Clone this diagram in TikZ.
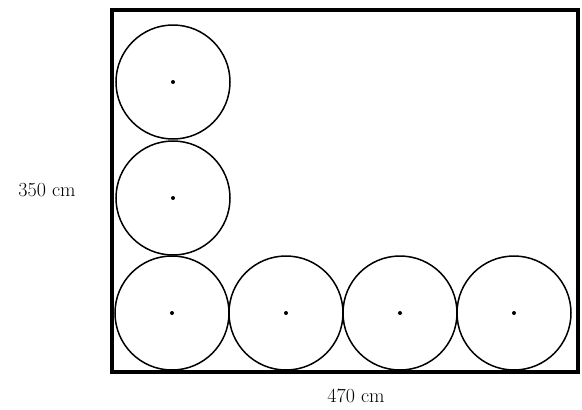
\documentclass[tikz,border=0pt]{standalone}
\begin{document}
\begin{tikzpicture}[x=1pt,y=-1pt,
  box/.style={draw=black,line width=4.5pt},
  ball/.style={draw=black,line width=1.5pt},
  ctr/.style={fill=black},
  lbl/.style={font=\fontsize{20}{22}\selectfont,inner sep=0pt}]
\useasboundingbox (0,0) rectangle (582,410);
\node[draw=none,inner sep=0pt,minimum width=466pt,minimum height=362pt] (room) at (345,191) {};
\draw[box] (room.north west) rectangle (room.south east);
\foreach \n/\cx/\cy in {a/172/313, b/286/313, c/400/313, d/514/313, e/173/198, f/173/82}{
  \coordinate (\n) at (\cx,\cy);
  \draw[ball] (\n) circle (57);
  \fill[ctr] (\n) circle (2);
}
\node[lbl] (h) at (47,190) {350 cm};
\node[lbl] (w) at (356,396) {470 cm};
\end{tikzpicture}
\end{document}
